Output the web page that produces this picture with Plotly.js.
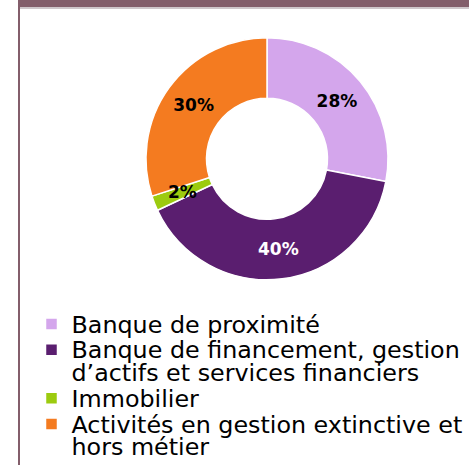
<!DOCTYPE html>
<html><head><meta charset="utf-8">
<script src="https://cdn.plot.ly/plotly-3.0.1.min.js"></script>
<style>html,body{margin:0;padding:0;background:#fff;} #chart{width:469px;height:465px;}</style>
</head><body><div id="chart"></div>
<script>
// ---- data ----
const categories = [
  'Banque de proximité',
  'Banque de financement, gestion<br>d’actifs et services financiers',
  'Immobilier',
  'Activités en gestion extinctive et<br>hors métier'
];
const shares = [28, 40, 2, 30];
const sliceColors = ['#D4A6EC', '#5A1E6F', '#9CCB0F', '#F47B20'];
const valueTextColors = ['#000000', '#FFFFFF', '#000000', '#000000'];
const smallSliceLimit = 5; // slices below this share get their label as an annotation

// ---- geometry / style ----
const W = 469, H = 465;
const FRAME = '#835E6B';
const HOLE = 0.5;
const domX = [146 / W, 388 / W];
const domY = [1 - 280 / H, 1 - 37.5 / H];
const LEGEND_BIG = 23.8;

const legendLabels = categories.map(c =>
  c.split('<br>').map(l => '<span style="font-size:' + LEGEND_BIG + 'px;baseline-shift:-2px">' + l + '</span>').join('<br>')
);

const total = shares.reduce((a, b) => a + b, 0);
const textPositions = shares.map(v => v < smallSliceLimit ? 'none' : 'inside');

// annotations for small slices, positioned from the data
const cxPx = (domX[0] + domX[1]) / 2 * W;
const cyPx = (1 - (domY[0] + domY[1]) / 2) * H;
const Rpx = Math.min((domX[1] - domX[0]) * W, (domY[1] - domY[0]) * H) / 2;
const rMid = Rpx * (1 + HOLE) / 2;
const annotations = [];
let cum = 0;
shares.forEach((v, i) => {
  const a = (cum + v / 2) / total * 2 * Math.PI;
  cum += v;
  if (v < smallSliceLimit) {
    const px = cxPx + rMid * Math.sin(a);
    const py = cyPx - rMid * Math.cos(a);
    annotations.push({
      xref: 'paper', yref: 'paper', x: px / W, y: 1 - py / H,
      xanchor: 'center', yanchor: 'middle', showarrow: false,
      text: v + '%',
      font: {family: 'DejaVu Sans', size: 17, weight: 700, color: valueTextColors[i]}
    });
  }
});

const trace = {
  type: 'pie',
  labels: legendLabels,
  values: shares,
  hole: HOLE,
  sort: false,
  direction: 'clockwise',
  rotation: 0,
  domain: {x: domX, y: domY},
  marker: {colors: sliceColors, line: {color: '#FFFFFF', width: 1.5}},
  texttemplate: '%{value}%',
  textposition: textPositions,
  insidetextorientation: 'horizontal',
  textfont: {family: 'DejaVu Sans', size: 17, weight: 700, color: valueTextColors},
  hoverinfo: 'none'
};

const layout = {
  width: W, height: H,
  margin: {l: 0, r: 0, t: 0, b: 0},
  paper_bgcolor: '#FFFFFF',
  showlegend: true,
  legend: {
    x: (51.5 - 20) / W, xanchor: 'left',
    y: 1 - 306 / H, yanchor: 'top',
    valign: 'top',
    font: {family: 'DejaVu Sans', size: 17.5, color: '#000000'},
    bgcolor: 'rgba(0,0,0,0)', borderwidth: 0, traceorder: 'normal'
  },
  annotations: annotations,
  shapes: [
    {type: 'rect', xref: 'paper', yref: 'paper', x0: 18 / W, x1: 20 / W, y0: 0, y1: 1, fillcolor: FRAME, line: {width: 0}},
    {type: 'rect', xref: 'paper', yref: 'paper', x0: 20 / W, x1: 1, y0: 1 - 7 / H, y1: 1, fillcolor: FRAME, line: {width: 0}},
    {type: 'rect', xref: 'paper', yref: 'paper', x0: 20 / W, x1: 1, y0: 1 - 9 / H, y1: 1 - 7 / H, fillcolor: '#CFC7CB', line: {width: 0}}
  ]
};

Plotly.newPlot('chart', [trace], layout, {staticPlot: true, displayModeBar: false});
</script>
</body></html>
